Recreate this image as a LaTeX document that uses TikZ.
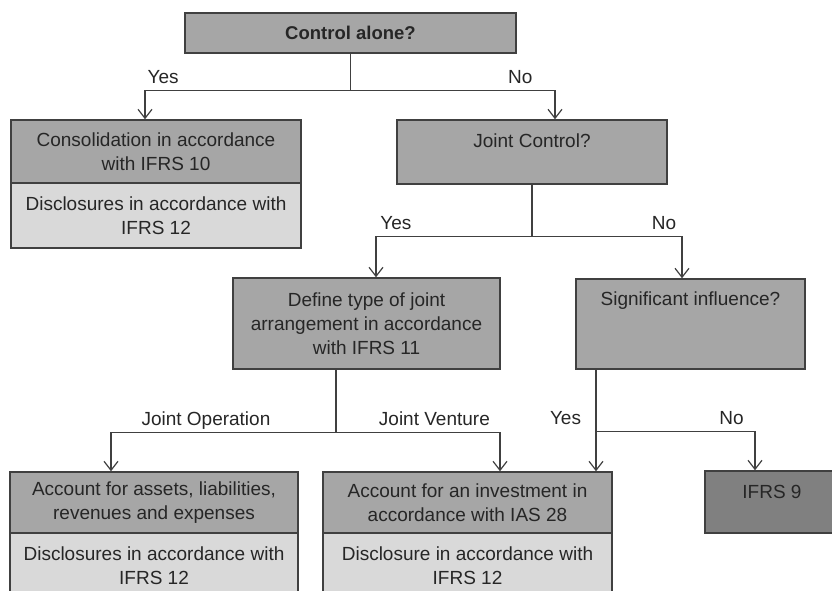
\documentclass[tikz,border=0pt]{standalone}
\usepackage{fontspec}
\setmainfont{Liberation Sans}
\usetikzlibrary{arrows.meta, positioning}

\begin{document}
\begin{tikzpicture}[
        x = 1pt, y = -1pt,
        on grid,
        >= {Straight Barb[length = 9pt, width = 14pt]},
        every node/.style = {font = \fontsize{19}{24}\selectfont, text = black!85},
        box/.style = {draw = black!75, line width = 1.5pt, inner xsep = 4pt, inner ysep = 0pt, align = center},
        question/.style = {box, fill = black!35},
        result/.style = {box, fill = black!35},
        disclosure/.style = {box, fill = black!15},
        final/.style = {box, fill = black!50},
        answer/.style = {anchor = base, yshift = 7pt},
        flow/.style = {draw = black!75, line width = 1.2pt}
    ]

    \useasboundingbox (0,0) rectangle (832,591);
    \clip (0,0) rectangle (832,591);


        \node[question, minimum width = 331pt, minimum height = 40pt, font = \fontsize{18.5}{24}\selectfont\bfseries] (alone) at (350.5,33) {Control alone?};

        \node[result, minimum width = 290pt, minimum height = 63pt] (consol) [below left = 118.5pt and 194.5pt of alone] {Consolidation in accordance\\with IFRS 10};
        \node[disclosure, minimum width = 290pt, minimum height = 65pt] (consoldisc) [below = 64pt of consol] {Disclosures in accordance with\\IFRS 12};

        \node[question, minimum width = 270pt, minimum height = 64pt, text height = 27pt, text depth = 37pt] (joint) [below right = 119pt and 181.5pt of alone] {Joint Control?};

        \node[question, minimum width = 267pt, minimum height = 91pt] (define) [below left = 171.5pt and 165.5pt of joint] {Define type of joint\\arrangement in accordance\\with IFRS 11};
        \node[question, minimum width = 229pt, minimum height = 90pt, text height = 26pt, text depth = 64pt] (signif) [below right = 172pt and 158.5pt of joint] {Significant influence?};

        \node[result, minimum width = 288pt, minimum height = 61pt] (assets) [below left = 179pt and 212.5pt of define] {Account for assets, liabilities,\\revenues and expenses};
        \node[disclosure, minimum width = 288pt, minimum height = 65pt] (assetsdisc) [below = 63pt of assets] {Disclosures in accordance with\\IFRS 12};

        \node[result, minimum width = 289pt, minimum height = 61pt] (invest) [below right = 179pt and 101pt of define] {Account for an investment in\\accordance with IAS 28};
        \node[disclosure, minimum width = 289pt, minimum height = 65pt] (investdisc) [below = 63pt of invest] {Disclosure in accordance with\\IFRS 12};

        \node[final, minimum width = 134pt, minimum height = 62pt, text height = 27pt, text depth = 35pt] (ifrs9) [below right = 178pt and 81.5pt of signif] {IFRS 9};


        % control alone?
        \draw[flow, ->] (alone.south) -- ++(0,37) coordinate (split1) -| ([xshift = -11pt]consol.north) node[answer, pos = 0.456] {Yes};
        \draw[flow, ->] (split1) -| ([xshift = 23pt]joint.north) node[answer, pos = 0.415] {No};

        % joint control?
        \draw[flow, ->] (joint.south) -- ++(0,52) coordinate (split2) -| ([xshift = 9.5pt]define.north) node[answer, pos = 0.436] {Yes};
        \draw[flow, ->] (split2) -| ([xshift = -8.5pt]signif.north) node[answer, pos = 0.44] {No};

        % type of arrangement
        \draw[flow, ->] ([xshift = -30.5pt]define.south) -- ++(0,63) coordinate (split3) -| ([xshift = -43pt]assets.north) node[answer, pos = 0.289] {Joint Operation};
        \draw[flow, ->] (split3) -| ([xshift = 32.5pt]invest.north) node[answer, pos = 0.30] {Joint Venture};

        % significant influence?
        \draw[flow, ->] ([xshift = -94.5pt]signif.south) -- ([xshift = 128.5pt]invest.north) coordinate[pos = 0.612] (split4) node[answer, pos = 0.612, xshift = -30.5pt] {Yes};
        \draw[flow, ->] (split4) -| ([xshift = -17pt]ifrs9.north) node[answer, pos = 0.426] {No};


    \end{tikzpicture}
\end{document}
